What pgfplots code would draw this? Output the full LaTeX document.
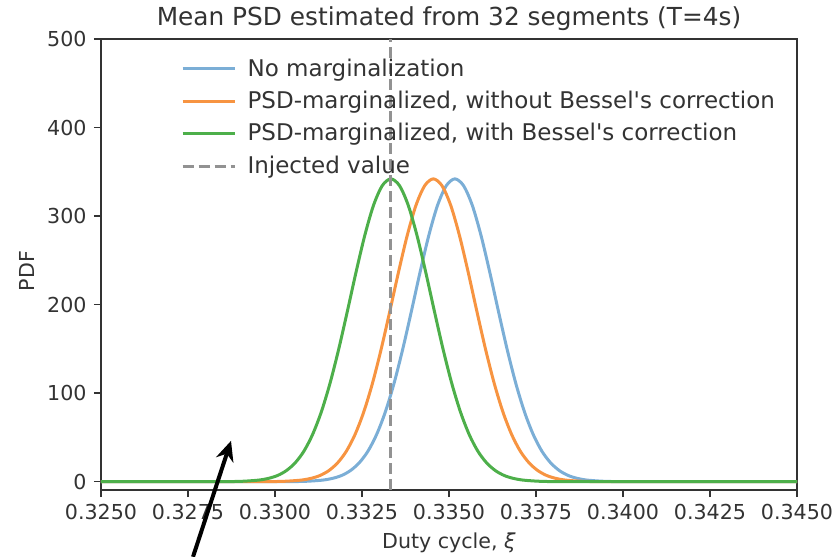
\documentclass[border=0pt]{standalone}
\usepackage{fontspec}
\setmainfont{DejaVu Sans}
\usepackage{pgfplots}
\pgfplotsset{compat=1.18}
\usetikzlibrary{arrows.meta}
\definecolor{cblue}{HTML}{7BAED6}
\definecolor{corange}{HTML}{F79441}
\definecolor{cgreen}{HTML}{4DAF4A}
\definecolor{cgray}{HTML}{929292}
\definecolor{ctext}{HTML}{333333}
\begin{document}
\fontsize{10.3pt}{12.4pt}\selectfont
\begin{tikzpicture}
\begin{axis}[
  scale only axis,
  width=348pt, height=225.5pt,
  at={(0,0)}, anchor=south west,
  xmin=0.325, xmax=0.345, ymin=-9.5, ymax=500,
  clip=false,
  axis line style={ctext, line width=0.8pt},
  every tick/.style={ctext, line width=0.8pt},
  tick align=outside, major tick length=3.6pt,
  xtick={0.325,0.3275,0.33,0.3325,0.335,0.3375,0.34,0.3425,0.345},
  ytick={0,100,200,300,400,500},
  xtick pos=bottom, ytick pos=left,
  scaled x ticks=false, scaled y ticks=false,
  x tick label style={/pgf/number format/.cd, fixed, fixed zerofill, precision=4, assume math mode=true},
  y tick label style={/pgf/number format/.cd, fixed, assume math mode=true},
  tick label style={text=ctext, font=\fontsize{10.3pt}{12.4pt}\selectfont},
  title={Mean PSD estimated from 32 segments (T=4s)},
  title style={at={(axis description cs:0.5,1)}, anchor=base, yshift=0.5pt, text=ctext, font=\fontsize{12.4pt}{14pt}\selectfont},
  xlabel={Duty cycle, \textit{ξ}},
  xlabel style={at={(axis description cs:0.5,0)}, anchor=base, yshift=-29.3pt, text=ctext},
  ylabel={PDF},
  ylabel style={at={(axis description cs:-0.107,0.4856)}, anchor=center, rotate=0, text=ctext},
  legend style={draw=none, fill=none, at={(axis description cs:0.106,0.975)}, anchor=north west,
    row sep=1.9pt, font=\fontsize{11.5pt}{13pt}\selectfont, text=ctext,
    /tikz/every odd column/.append style={column sep=3.7pt}},
  legend cell align=left,
  legend image code/.code={\draw[#1] (0pt,0pt) -- (26pt,0pt);},
]
\addplot[cblue, line width=1.5pt, smooth, mark=none] coordinates {
(0.3250,0) (0.3290,0)
(0.33067,0.1) (0.33092,0.4) (0.33117,1.0) (0.33142,1.9) (0.33167,3.8) (0.33192,7.0)
(0.33217,12.5) (0.33242,21.2) (0.33267,34.3) (0.33292,53.2) (0.33317,78.6) (0.33342,110.9)
(0.33367,149.5) (0.33392,192.5) (0.33417,236.8) (0.33442,278.1) (0.33467,312.0) (0.33492,334.2)
(0.33517,342.0)
(0.33542,334.2) (0.33567,312.0) (0.33592,278.1) (0.33617,236.8) (0.33642,192.5) (0.33667,149.5)
(0.33692,110.9) (0.33717,78.6) (0.33742,53.2) (0.33767,34.3) (0.33792,21.2) (0.33817,12.5)
(0.33842,7.0) (0.33867,3.8) (0.33892,1.9) (0.33917,1.0) (0.33942,0.4) (0.33967,0.1)
(0.3410,0) (0.3450,0)};
\addlegendentry{No marginalization}
\addplot[corange, line width=1.5pt, smooth, mark=none] coordinates {
(0.3250,0) (0.3285,0)
(0.33005,0.1) (0.33030,0.4) (0.33055,1.0) (0.33080,1.9) (0.33105,3.8) (0.33130,7.0)
(0.33155,12.5) (0.33180,21.2) (0.33205,34.3) (0.33230,53.2) (0.33255,78.6) (0.33280,110.9)
(0.33305,149.5) (0.33330,192.5) (0.33355,236.8) (0.33380,278.1) (0.33405,312.0) (0.33430,334.2)
(0.33455,342.0)
(0.33480,334.2) (0.33505,312.0) (0.33530,278.1) (0.33555,236.8) (0.33580,192.5) (0.33605,149.5)
(0.33630,110.9) (0.33655,78.6) (0.33680,53.2) (0.33705,34.3) (0.33730,21.2) (0.33755,12.5)
(0.33780,7.0) (0.33805,3.8) (0.33830,1.9) (0.33855,1.0) (0.33880,0.4) (0.33905,0.1)
(0.3405,0) (0.3450,0)};
\addlegendentry{PSD-marginalized, without Bessel\textquotesingle s correction}
\addplot[cgreen, line width=1.5pt, smooth, mark=none] coordinates {
(0.3250,0) (0.3273,0)
(0.32883,0.1) (0.32908,0.4) (0.32933,1.0) (0.32958,1.9) (0.32983,3.8) (0.33008,7.0)
(0.33033,12.5) (0.33058,21.2) (0.33083,34.3) (0.33108,53.2) (0.33133,78.6) (0.33158,110.9)
(0.33183,149.5) (0.33208,192.5) (0.33233,236.8) (0.33258,278.1) (0.33283,312.0) (0.33308,334.2)
(0.33333,342.0)
(0.33358,334.2) (0.33383,312.0) (0.33408,278.1) (0.33433,236.8) (0.33458,192.5) (0.33483,149.5)
(0.33508,110.9) (0.33533,78.6) (0.33558,53.2) (0.33583,34.3) (0.33608,21.2) (0.33633,12.5)
(0.33658,7.0) (0.33683,3.8) (0.33708,1.9) (0.33733,1.0) (0.33758,0.4) (0.33783,0.1)
(0.3393,0) (0.3450,0)};
\addlegendentry{PSD-marginalized, with Bessel\textquotesingle s correction}
\addplot[cgray, line width=1.5pt, dash pattern=on 5.5pt off 2.5pt, mark=none] coordinates {(0.333333,-9.5) (0.333333,500)};
\addlegendentry{Injected value}
\draw[black, line width=2pt, -{Stealth[length=10pt,width=9pt]}] (axis cs:0.327644,-85) -- (axis cs:0.328736,46);
\end{axis}
\pgfresetboundingbox
\path (-50.5pt,-33.5pt) rectangle (367.5pt,245pt);
\end{tikzpicture}
\end{document}
